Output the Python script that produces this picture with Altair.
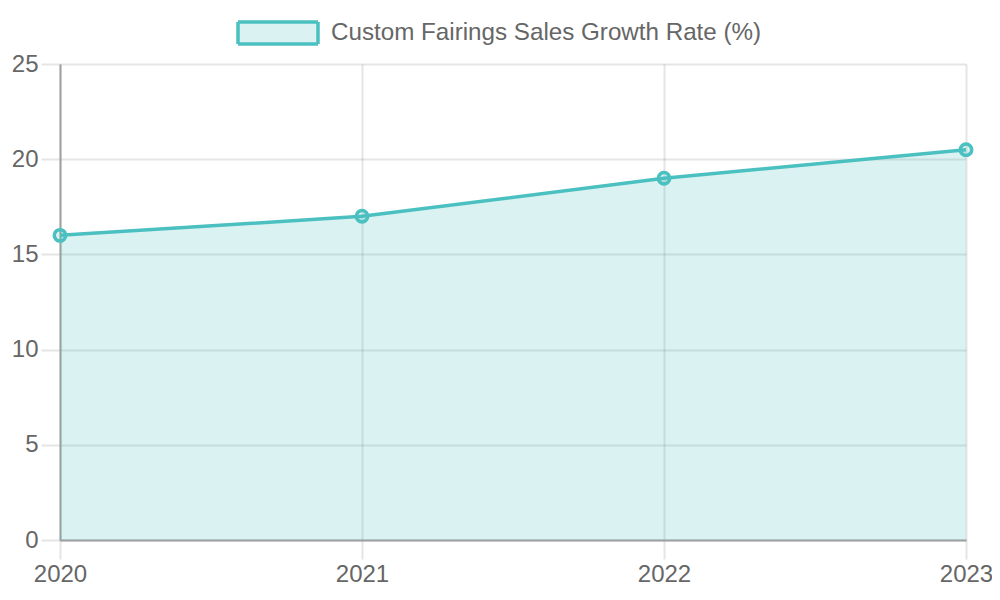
import pandas as pd
import altair as alt

# Данные
years = ["2020", "2021", "2022", "2023"]
growth = [16, 17, 19, 20.5]
series = "Custom Fairings Sales Growth Rate (%)"

source = pd.DataFrame({"year": years, "growth": growth, "series": [series] * len(years)})

teal = "#4BC0C0"
teal_fill = "rgba(75,192,192,0.2)"
grid = "rgba(0,0,0,0.1)"

x = alt.X("year:O", title=None,
          scale=alt.Scale(type="point", padding=0),
          axis=alt.Axis(labelAngle=0, grid=True, gridColor=grid, gridWidth=2,
                        tickColor=grid, tickWidth=2, tickSize=19,
                        domainColor="#a0a0a0", domainWidth=2, labelPadding=3))
y = alt.Y("growth:Q", title=None,
          scale=alt.Scale(domain=[0, 25], nice=False),
          axis=alt.Axis(values=[0, 5, 10, 15, 20, 25], grid=True, gridColor=grid, gridWidth=2,
                        tickColor=grid, tickWidth=2, tickSize=19,
                        domainColor="#a0a0a0", domainWidth=2, labelPadding=3))

# Заливка под линией
area = alt.Chart(source).mark_area(fill=teal_fill, opacity=1).encode(x=x, y=y)

# Линия, через неё легенда
line = alt.Chart(source).mark_line(strokeWidth=3.5).encode(
    x=x, y=y,
    stroke=alt.Stroke("series:N", scale=alt.Scale(range=[teal]),
                      legend=alt.Legend(title=None, orient="none", legendX=176, legendY=-73,
                                        symbolType="M-1,-0.275L1,-0.275L1,0.275L-1,0.275Z",
                                        symbolSize=6400, symbolFillColor=teal_fill,
                                        symbolStrokeWidth=3.5, symbolDash=[1, 0],
                                        labelOffset=11))
)

points = alt.Chart(source).mark_point(
    shape="circle", filled=True, fill=teal_fill, stroke=teal, strokeWidth=3.5, size=130, opacity=1
).encode(x=x, y=y)

chart = (area + line + points).properties(
    width=906, height=476,
    autosize=alt.AutoSizeParams(type="none"),
    padding={"left": 52, "top": 56, "right": 26, "bottom": 52},
).configure(
    font="Liberation Sans"
).configure_axis(
    labelFontSize=24, labelColor="#666", labelFont="Liberation Sans"
).configure_legend(
    labelFontSize=24.2, labelColor="#666", labelFont="Liberation Sans", labelLimit=0
).configure_view(stroke=None)

chart.save("out.html", embed_options={"renderer": "svg", "actions": False})
